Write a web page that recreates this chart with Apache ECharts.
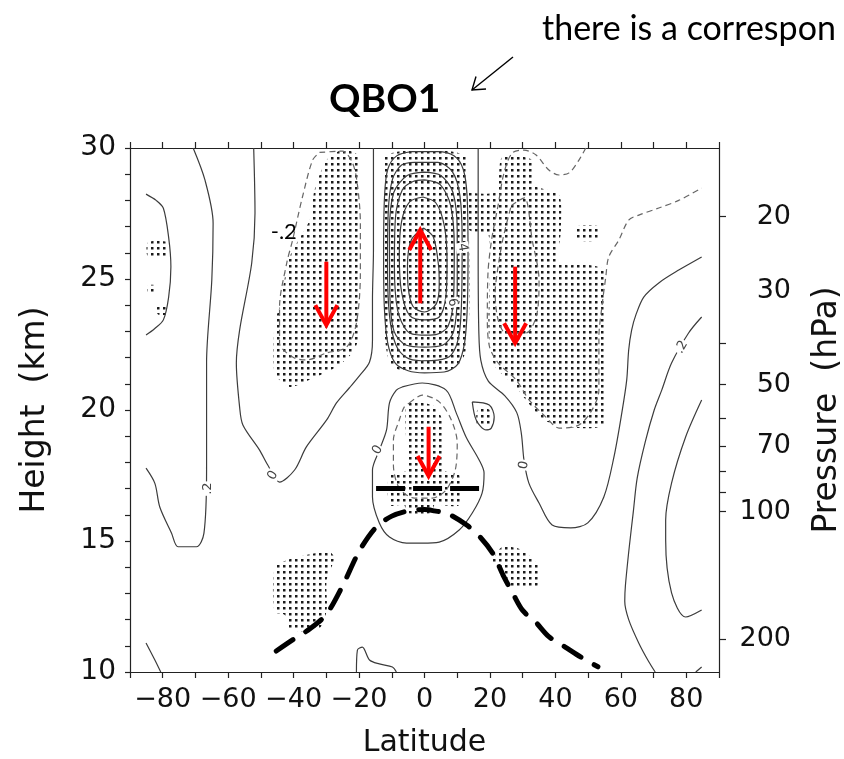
<!DOCTYPE html>
<html><head><meta charset="utf-8">
<script src="https://cdn.jsdelivr.net/npm/echarts@6/dist/echarts.min.js"></script>
<style>html,body{margin:0;padding:0;background:#fff}#c{width:844px;height:759px}</style>
</head><body><div id="c"></div><script>
// ---------- axes ----------
const latitudeLabels = [-80, -60, -40, -20, 0, 20, 40, 60, 80];
const heightLabels = [10, 15, 20, 25, 30];
const pressureTicks = [20, 40, 50, 60, 70, 80, 90, 100, 200];
const pressureLabels = [20, 30, 50, 70, 100, 200];
const scaleHeightKm = 7;

// ---------- solid contours [lat, km] ----------
const contourA = [[-85.1,28.24],[-82,28.0],[-79.8,27.7],[-78.2,26.6],[-77.5,25.47],[-78.2,24.3],[-79.8,23.44],[-82.5,23.1],[-85.1,22.86]];
const contourB = [[-70.7,30],[-67.1,28.78],[-64.6,27.13],[-65,24.96],[-66.6,21.8],[-66.6,20],[-66.6,17.7],[-67.4,15.3],[-69.7,14.78],[-75.3,14.78],[-77.3,15.3],[-80.9,16.3],[-82.4,17.2],[-85.1,17.78]];
const contourC = [[-52.2,30],[-51.8,27.52],[-52.8,25.61],[-56.5,23.05],[-57.5,21.79],[-56.5,20.11],[-55.5,19.43],[-50.4,18.47],[-47.9,17.9],[-44.3,17.25],[-39.7,17.71],[-36.1,18.59],[-29.9,19.62],[-26.9,20.27],[-23,20.84],[-19.9,21.3],[-16.8,21.83],[-15.9,22.67],[-15.9,24.2],[-15.6,26.1],[-15.6,28.0],[-15.6,30]];
const contourRight0 = [[16.4,30],[16.4,26],[16.6,23],[17.2,21.9],[19.5,21.1],[24.5,20.55],[28.2,19.9],[29.6,19.1],[30.4,18.09],[31.9,17.21],[35,16.45],[39,15.61],[44.7,15.5],[49.9,15.69],[54.8,16.68],[57.9,18.21],[60.3,19.89],[61.8,21.15],[62.4,22.29],[63.3,23.05],[64.6,23.63],[67,24.31],[71.6,24.85],[77.7,25.34],[84.7,25.84]];
const contourRight2 = [[84.7,23.55],[80.7,22.94],[75.5,21.79],[72.5,20.76],[70.2,20.0],[67.5,18.8],[65,17.4],[63.8,16.1],[62.6,14.8],[61.4,13.3],[61.2,12.7],[62.4,12.0],[65.5,11.1],[68.5,10.4],[70.5,10]];
const contourRight4 = [[84.7,20.38],[79.8,18.97],[75.5,17.21],[73.7,15.8],[73.7,15.04],[75.5,13.02],[79.8,12.1],[84.7,12.37]];
const contourBottomRight = [[82.9,10],[84.7,10.19]];
const contourBottomLeft = [[-85.1,11.11],[-82.4,10.46],[-80.6,10]];
const contourBottomMid = [[-20.8,10],[-20.5,10.84],[-19,10.95],[-16.8,10.46],[-13.8,10.31],[-9.8,10.19],[-8.6,10]];
const contourPear = [[-6.8,20.88],[-0.7,21.03],[6.6,20.76],[9.7,19.89],[12.7,18.97],[16.7,18.09],[18.2,17.6],[17.6,16.83],[14.6,16.07],[10.6,15.42],[4.5,14.96],[-0.7,14.92],[-5.5,14.92],[-10.7,15.15],[-13.8,15.69],[-15.9,16.68],[-15.9,17.71],[-13.8,18.47],[-11.6,19.24],[-10.7,20.27],[-8.6,20.76],[-6.8,20.88]];
const contourSmallLoop = [[14.6,20.31],[19.8,20.19],[21.3,19.73],[20.4,19.31],[18.8,19.24],[15.8,19.62],[14.6,20.31]];
const contourCore1 = [[-4,29.86],[4,29.86],[9,29.7],[11.8,29.2],[13,28.2],[13.3,26],[13.1,24],[12.3,22.6],[10.2,21.75],[6,21.45],[0,21.42],[-5,21.5],[-9,21.8],[-11.3,22.6],[-12.3,24],[-12.5,26],[-12.2,28.2],[-11.2,29.2],[-8.5,29.7],[-4,29.86]];
const contourCore2 = [[-3,29.45],[4,29.45],[8.5,29.1],[10.8,28.2],[11.5,26.5],[11.4,24.5],[10.6,22.9],[8.2,22.1],[4,21.9],[-1,21.88],[-5.5,22.0],[-8.8,22.5],[-10.7,23.6],[-11.3,25.5],[-11.1,27.5],[-9.8,28.8],[-7,29.35],[-3,29.45]];
const contourCore3 = [[0,29.08],[5,28.95],[8.7,28.3],[10,26.8],[10,24.5],[8.9,23.0],[5.5,22.47],[0,22.4],[-5.5,22.47],[-9.3,23.0],[-10.6,24.5],[-10.7,26.8],[-9.4,28.3],[-5.3,28.95],[0,29.08]];
const contourCore4 = [[0,28.78],[4.8,28.6],[8,27.8],[9.1,26.2],[8.9,24.3],[7.2,23.2],[3.5,22.88],[-1,22.86],[-5.2,23.0],[-8.2,23.8],[-9.2,25.5],[-8.9,27.3],[-6.8,28.4],[-3.5,28.72],[0,28.78]];
const contourCore5 = [[-0.5,28.13],[3.5,27.9],[6.1,27],[6.9,25.6],[6.5,24.3],[4.5,23.55],[0,23.44],[-4.5,23.6],[-7,24.5],[-7.7,25.9],[-7,27.2],[-4.5,27.95],[-0.5,28.13]];
const contourCore6 = [[-0.3,26.95],[2.7,26.6],[4.3,25.5],[4.5,24.8],[3.6,24.05],[0,23.74],[-3.5,23.95],[-5,24.7],[-5.2,25.5],[-4,26.5],[-0.3,26.95]];

// ---------- dashed (negative) contours ----------
const dashLeft = [[-32.1,29.83],[-25.1,29.88],[-22,29.43],[-20.5,28.6],[-19.6,27.14],[-19.6,25.23],[-20.8,23.32],[-23.8,22.4],[-29.9,22.18],[-36.1,21.91],[-40.3,22.02],[-44.3,22.56],[-44.3,23.93],[-42.1,25.61],[-40.3,26.49],[-37.3,28.13],[-34.2,29.54],[-32.1,29.83]];
const dashRight = [[49.3,30],[47.2,29.54],[44.2,29.05],[41.1,28.97],[38,29.16],[34.1,29.73],[30.4,29.92],[26.8,29.81],[24.3,29.05],[22.4,27.75],[20.5,26.49],[19.4,25.23],[19.2,23.44],[19.9,22.4],[22.5,21.8],[28,21.15],[32,20.38],[37.1,19.73],[41.1,19.31],[47.2,19.43],[51.2,20],[53.3,20.76],[53.3,22.79],[54.2,23.93],[55.4,25.08],[56.3,25.84],[59.4,26.49],[62.4,27.25],[65.5,27.44],[71.6,27.71],[77.7,28],[84.7,28.47]];
const dashRightInner = [[26.5,27.8],[30.5,28.1],[32.9,26.5],[35,24.96],[34.4,23.7],[31,22.94],[24.9,22.94],[22.5,23.44],[21.6,24.47],[22.2,25.23],[23.9,26.49],[26.5,27.8]];
const dashPearInner = [[-4.6,20.27],[-0.7,20.57],[4.5,20.31],[8.2,19.62],[10,18.74],[9.4,17.71],[6.6,16.95],[2.4,16.64],[-3.1,16.64],[-7.7,17.02],[-9.5,17.9],[-9.5,18.85],[-7.7,19.62],[-6.2,20.11],[-4.6,20.27]];

// ---------- stippled (significant) regions ----------
const stippleLeftCell = [[-29.9,29.54],[-25.1,29.92],[-20.5,29.73],[-19.9,28],[-19.9,23.05],[-21.4,22.29],[-26.9,21.64],[-35.1,21.15],[-41.2,20.88],[-45.8,21.41],[-45.8,23.32],[-44.3,23.93],[-41.2,25.84],[-35.1,27.25],[-33.6,28.4]];
const stippleCore = [[-11.6,29.73],[12.1,29.73],[13.4,28],[13.4,22.67],[10.6,21.72],[4.5,21.45],[-6.2,21.45],[-10.7,21.83],[-12.2,23.05],[-12.2,28]];
const stippleRightCell = [[23.8,29.66],[32.9,29.54],[33.5,28.59],[41.1,28.21],[41.7,26.87],[41.1,25.61],[50.2,25.53],[54.8,25.34],[55.4,23.44],[55.7,20.38],[54.8,19.43],[47.2,19.31],[36.6,19.62],[27.4,20.95],[21.3,21.72],[19.6,23.05],[19.6,26.68],[13.7,26.87],[10.6,28.21],[21.3,28.28],[22.6,28.66]];
const stipplePear = [[-5.5,20.19],[2.4,20.19],[5.4,19.62],[6.0,17.71],[10.6,17.52],[10.6,16.37],[3,16.37],[2.4,16.07],[-5.5,16.07],[-6.2,16.37],[-10.7,16.37],[-10.7,17.52],[-5.5,17.71]];
const stippleLowerLeft = [[-42.1,14.27],[-36.1,14.47],[-29.1,14.58],[-27.5,14.35],[-29.9,13.51],[-29.9,12.37],[-32.1,11.68],[-41.2,11.6],[-42.7,12.18],[-45.8,12.29],[-45.8,13.97]];
const stippleLowerRight = [[23.7,14.77],[29.8,14.66],[35,14.01],[35,13.32],[25.9,13.24],[22.9,14.08],[20.7,14.2]];
const stippleEdgeA = [[-84.5,26.4],[-78.7,26.4],[-78.7,25.85],[-84.5,25.85]];
const stippleEdgeB = [[-84.5,24.75],[-82,24.75],[-82,24.45],[-84.5,24.45]];
const stippleEdgeC = [[-81.5,24.0],[-78.7,24.0],[-78.7,23.65],[-81.5,23.65]];
const stippleSmallLoop = [[16.2,20.0],[20,20.0],[20,19.4],[16.2,19.4]];
const stippleRightBits = [[46.6,27.0],[53.3,27.0],[53.3,26.5],[46.6,26.5]];

// ---------- tropopause (thick dashed) ----------
const tropopauseCurve = [[-45.3,10.8],[-40,11.25],[-35,11.65],[-30,12.2],[-25,13.3],[-20,14.6],[-15,15.5],[-10,15.95],[-5,16.15],[0,16.2],[3,16.15],[7,16.05],[13,15.6],[17,15.15],[21,14.5],[24,13.7],[27,13.0],[30,12.35],[34,11.9],[38,11.35],[43,10.95],[48,10.55],[53,10.2]];
const tropopauseLevel = [[-14.8,17],[16.7,17]];

// ---------- red arrows [lat, from km, to km] ----------
const redArrows = [[-30,25.66,23.24],[-1.3,24.07,26.87],[27.7,25.47,22.55],[1.25,19.36,17.48]];

// ---------- contour labels [lat, km, text, rotation deg] ----------
const contourLabels = [[-66.3,17.0,'.2',90],[78.6,22.4,'.2',60],[-46.3,17.5,'0',60],[-14.3,18.47,'0',60],[30.4,17.9,'0',80],[11.6,26.2,'4',-80],[8.6,24.1,'6',-80]];
const overlayLabels = [[-43,26.8,'-.2']];

const solidContours = [contourA, contourB, contourC, contourRight0, contourRight2, contourRight4, contourBottomRight, contourBottomLeft, contourBottomMid, contourPear, contourSmallLoop, contourCore1, contourCore2, contourCore3, contourCore4, contourCore5, contourCore6];
const dashedContours = [dashLeft, dashRight, dashRightInner, dashPearInner];
const stippleRegions = [stippleLeftCell, stippleCore, stippleRightCell, stipplePear, stippleLowerLeft, stippleLowerRight, stippleEdgeA, stippleEdgeB, stippleEdgeC, stippleSmallLoop, stippleRightBits];

const kmOfPressure = p => scaleHeightKm * Math.log(1000 / p);
const FONT = 'DejaVu Sans';

function makeStipple() {
  const c = document.createElement('canvas');
  c.width = 6; c.height = 6;
  const g = c.getContext('2d');
  g.fillStyle = '#1a1a1a';
  g.fillRect(1, 1, 2.5, 2.5);
  return c;
}
const stipple = { image: makeStipple(), repeat: 'repeat' };

const series = [];
series.push({
  type: 'custom', coordinateSystem: 'cartesian2d', silent: true, z: 1, clip: true,
  data: stippleRegions.map((r, i) => [r[0][0], r[0][1], i]),
  encode: { x: 0, y: 1 },
  renderItem: (params, api) => {
    const r = stippleRegions[api.value(2)];
    return { type: 'polygon', shape: { points: r.map(p => api.coord(p)), smooth: 0.25 }, style: { fill: stipple } };
  }
});
solidContours.forEach(c => series.push({
  type: 'line', data: c, showSymbol: false, symbol: 'none', silent: true, smooth: 0.3, z: 3,
  lineStyle: { color: '#3c3c3c', width: 1.2 }
}));
dashedContours.forEach(c => series.push({
  type: 'line', data: c, showSymbol: false, symbol: 'none', silent: true, smooth: 0.3, z: 3,
  lineStyle: { color: '#666', width: 1.2, type: [6, 4] }
}));
series.push({
  type: 'line', data: tropopauseCurve, showSymbol: false, symbol: 'none', silent: true, smooth: 0.3, z: 4,
  lineStyle: { color: '#000', width: 5, type: [20, 15], cap: 'round' }
});
series.push({
  type: 'line', data: tropopauseLevel, showSymbol: false, symbol: 'none', silent: true, z: 4,
  lineStyle: { color: '#000', width: 5, type: [29, 8] }
});
series.push({
  type: 'custom', coordinateSystem: 'cartesian2d', silent: true, z: 6,
  data: contourLabels,
  encode: { x: 0, y: 1 },
  renderItem: (params, api) => {
    const d = contourLabels[params.dataIndex];
    const p = api.coord([d[0], d[1]]);
    return { type: 'text', x: p[0], y: p[1], rotation: d[3] * Math.PI / 180,
      style: { text: d[2], font: '13px ' + FONT, fill: '#444', align: 'center', verticalAlign: 'middle', backgroundColor: '#fff', padding: [0, 1] } };
  }
});
series.push({
  type: 'custom', coordinateSystem: 'cartesian2d', silent: true, z: 6,
  data: overlayLabels,
  encode: { x: 0, y: 1 },
  renderItem: (params, api) => {
    const d = overlayLabels[params.dataIndex];
    const p = api.coord([d[0], d[1]]);
    return { type: 'text', x: p[0], y: p[1],
      style: { text: d[2], font: '22px Lato', fill: '#000', align: 'center', verticalAlign: 'middle' } };
  }
});
series.push({
  type: 'custom', coordinateSystem: 'cartesian2d', silent: true, z: 7,
  data: redArrows,
  encode: { x: 0, y: [1, 2] },
  renderItem: (params, api) => {
    const lat = api.value(0);
    const p0 = api.coord([lat, api.value(1)]);
    const p1 = api.coord([lat, api.value(2)]);
    const dir = Math.sign(p1[1] - p0[1]);
    const L = 20, W = 11;
    return { type: 'group', children: [
      { type: 'line', shape: { x1: p0[0], y1: p0[1], x2: p1[0], y2: p1[1] - dir * 2 }, style: { stroke: '#ff0000', lineWidth: 4 } },
      { type: 'polyline', shape: { points: [[p1[0] - W, p1[1] - dir * L], [p1[0], p1[1]], [p1[0] + W, p1[1] - dir * L]] },
        style: { stroke: '#ff0000', lineWidth: 4, fill: null, lineJoin: 'miter' } }
    ] };
  }
});

const lineStyleAxis = { color: '#222', width: 1.2 };
function axisBase() {
  return {
    axisLine: { show: true, onZero: false, lineStyle: lineStyleAxis },
    axisTick: { show: true, inside: false, length: 6, lineStyle: lineStyleAxis },
    splitLine: { show: false }
  };
}

const option = {
  animation: false,
  backgroundColor: '#fff',
  grid: { left: 130, right: 125, top: 148, bottom: 87, containLabel: false, outerBoundsMode: 'none' },
  xAxis: [
    Object.assign(axisBase(), {
      type: 'value', min: -90, max: 90, interval: 10, position: 'bottom',
      name: 'Latitude', nameLocation: 'middle', nameGap: 56,
      nameTextStyle: { fontFamily: FONT, fontSize: 30, color: '#111' },
      axisLabel: { margin: 14, fontFamily: FONT, fontSize: 27, color: '#111',
        formatter: v => latitudeLabels.includes(v) ? (v < 0 ? '\u2212' + (-v) : String(v)) : '' }
    }),
    Object.assign(axisBase(), {
      type: 'value', min: -90, max: 90, interval: 10, position: 'top', axisLabel: { show: false }
    })
  ],
  yAxis: [
    Object.assign(axisBase(), {
      type: 'value', min: 10, max: 30, interval: 1, position: 'left',
      name: 'Height  (km)', nameLocation: 'middle', nameRotate: 90, nameGap: 78,
      nameTextStyle: { fontFamily: FONT, fontSize: 33, color: '#111' },
      axisTick: { show: true, inside: false, length: 5, lineStyle: lineStyleAxis },
      axisLabel: { margin: 14, fontFamily: FONT, fontSize: 28, color: '#111',
        formatter: v => heightLabels.includes(v) ? String(v) : '' }
    }),
    Object.assign(axisBase(), {
      type: 'value', min: 10, max: 30, position: 'right',
      name: 'Pressure  (hPa)', nameLocation: 'middle', nameRotate: 90, nameGap: 92,
      nameTextStyle: { fontFamily: FONT, fontSize: 33, color: '#111', verticalAlign: 'top' },
      axisTick: { show: true, inside: false, length: 7, customValues: pressureTicks.map(kmOfPressure), lineStyle: lineStyleAxis },
      axisLabel: { margin: 72, align: 'right', fontFamily: FONT, fontSize: 27, color: '#111',
        customValues: pressureLabels.map(kmOfPressure),
        formatter: v => String(Math.round(1000 * Math.exp(-v / scaleHeightKm))) }
    })
  ],
  graphic: [
    { type: 'text', left: 329, top: 80, style: { text: 'QBO1', font: 'bold 39px Lato', fill: '#000' } },
    { type: 'text', left: 542, top: 12, style: { text: 'there is a correspon', font: '34px Lato', fill: '#000' } },
    { type: 'line', shape: { x1: 513, y1: 57, x2: 472, y2: 90 }, style: { stroke: '#000', lineWidth: 1.4 } },
    { type: 'polyline', shape: { points: [[476, 76.5], [472, 90], [486, 89]] }, style: { stroke: '#000', lineWidth: 1.4, fill: null } }
  ],
  series: series
};

const chart = echarts.init(document.getElementById('c'), null, { renderer: 'canvas' });
chart.setOption(option);
</script></body></html>
